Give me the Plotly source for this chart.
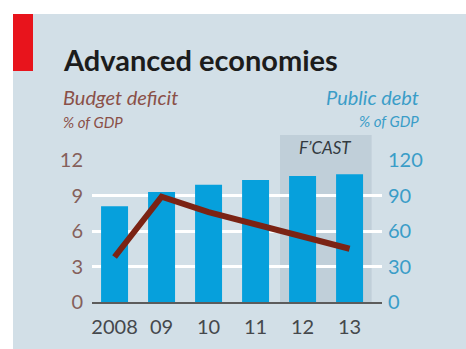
import plotly.graph_objects as go

# Advanced economies: public debt (bars, right axis) and budget deficit (line, left axis)
years = ["2008", "09", "10", "11", "12", "13"]
public_debt = [81, 93, 99, 103, 106.5, 108]      # % of GDP
budget_deficit = [3.8, 8.9, 7.6, 6.6, 5.6, 4.5]   # % of GDP
deficit_ticks = [0, 3, 6, 9, 12]
debt_ticks = [0, 30, 60, 90, 120]
forecast_years = ["12", "13"]

W, H = 466, 349
L, R, T, B = 92, 84, 160, 47
PW, PH = W - L - R, H - T - B

BG = "#d2dfe7"
SHADE = "#c0cfd9"
BAR = "#06a0dc"
LINE = "#7b2314"
BROWN = "#8a5048"
BLUE = "#3a9dc8"
FONT = "Lato"


def px_x(px):
    return (px - L) / PW


def px_y(py):
    return (H - B - py) / PH


fig = go.Figure()
fig.add_trace(go.Bar(x=years, y=public_debt, marker=dict(color=BAR, line=dict(width=0)),
                     yaxis="y", hoverinfo="skip"))
fig.add_trace(go.Scatter(x=years, y=budget_deficit, mode="lines", yaxis="y2",
                         line=dict(color=LINE, width=6), hoverinfo="skip"))

first_fc = years.index(forecast_years[0])
last_fc = years.index(forecast_years[-1])

shapes = [
    # white page margin around the panel
    dict(type="rect", xref="paper", yref="paper", x0=px_x(0), x1=px_x(13), y0=px_y(H), y1=px_y(0),
         fillcolor="white", line=dict(width=0), layer="below"),
    dict(type="rect", xref="paper", yref="paper", x0=px_x(0), x1=px_x(W), y0=px_y(14), y1=px_y(0),
         fillcolor="white", line=dict(width=0), layer="below"),
    # red tag
    dict(type="rect", xref="paper", yref="paper", x0=px_x(13), x1=px_x(33), y0=px_y(71), y1=px_y(14),
         fillcolor="#e8141c", line=dict(width=0), layer="above"),
    # forecast band
    dict(type="rect", xref="x", yref="paper", x0=first_fc - 0.48, x1=last_fc + 0.47,
         y0=0, y1=px_y(135), fillcolor=SHADE, line=dict(width=0), layer="below"),
]

annotations = [
    dict(text="<b>Advanced economies</b>", x=px_x(61), y=px_y(59), xref="paper", yref="paper",
         xanchor="left", yanchor="middle", showarrow=False,
         font=dict(family=FONT, size=29, color="#1c1c1c")),
    dict(text="<i>Budget deficit</i>", x=px_x(61), y=px_y(97), xref="paper", yref="paper",
         xanchor="left", yanchor="middle", showarrow=False,
         font=dict(family=FONT, size=20, color=BROWN)),
    dict(text="<i>% of GDP</i>", x=px_x(61), y=px_y(122), xref="paper", yref="paper",
         xanchor="left", yanchor="middle", showarrow=False,
         font=dict(family=FONT, size=15, color=BROWN)),
    dict(text="<i>Public debt</i>", x=px_x(421), y=px_y(97), xref="paper", yref="paper",
         xanchor="right", yanchor="middle", showarrow=False,
         font=dict(family=FONT, size=20, color=BLUE)),
    dict(text="<i>% of GDP</i>", x=px_x(421), y=px_y(121), xref="paper", yref="paper",
         xanchor="right", yanchor="middle", showarrow=False,
         font=dict(family=FONT, size=15, color=BLUE)),
    dict(text="<i>F\u2019CAST</i>", x=(first_fc + last_fc) / 2 - 0.02, y=px_y(148), xref="x", yref="paper",
         xanchor="center", yanchor="middle", showarrow=False,
         font=dict(family=FONT, size=17, color="#333a40")),
]

fig.update_layout(
    width=W, height=H,
    margin=dict(l=L, r=R, t=T, b=B, pad=0),
    paper_bgcolor=BG, plot_bgcolor=BG,
    showlegend=False, bargap=0.426,
    shapes=shapes, annotations=annotations,
    xaxis=dict(type="category", range=[-0.48, 5.69], showgrid=False, zeroline=False,
               showline=True, linecolor="#5c5c5c", linewidth=1.5,
               ticks="", ticklabelstandoff=6,
               tickfont=dict(family=FONT, size=20, color="#45484c")),
    yaxis=dict(range=[0, 120], side="right", tickvals=debt_ticks,
               showgrid=True, gridcolor="white", gridwidth=2.5, zeroline=False,
               showline=False, ticks="", ticklabelstandoff=5,
               tickfont=dict(family=FONT, size=20, color=BLUE)),
    yaxis2=dict(range=[0, 12], side="left", overlaying="y", tickvals=deficit_ticks,
                showgrid=False, zeroline=False, showline=False, ticks="", ticklabelstandoff=8,
                tickfont=dict(family=FONT, size=20, color="#85605b")),
)

fig.write_html("out.html")
